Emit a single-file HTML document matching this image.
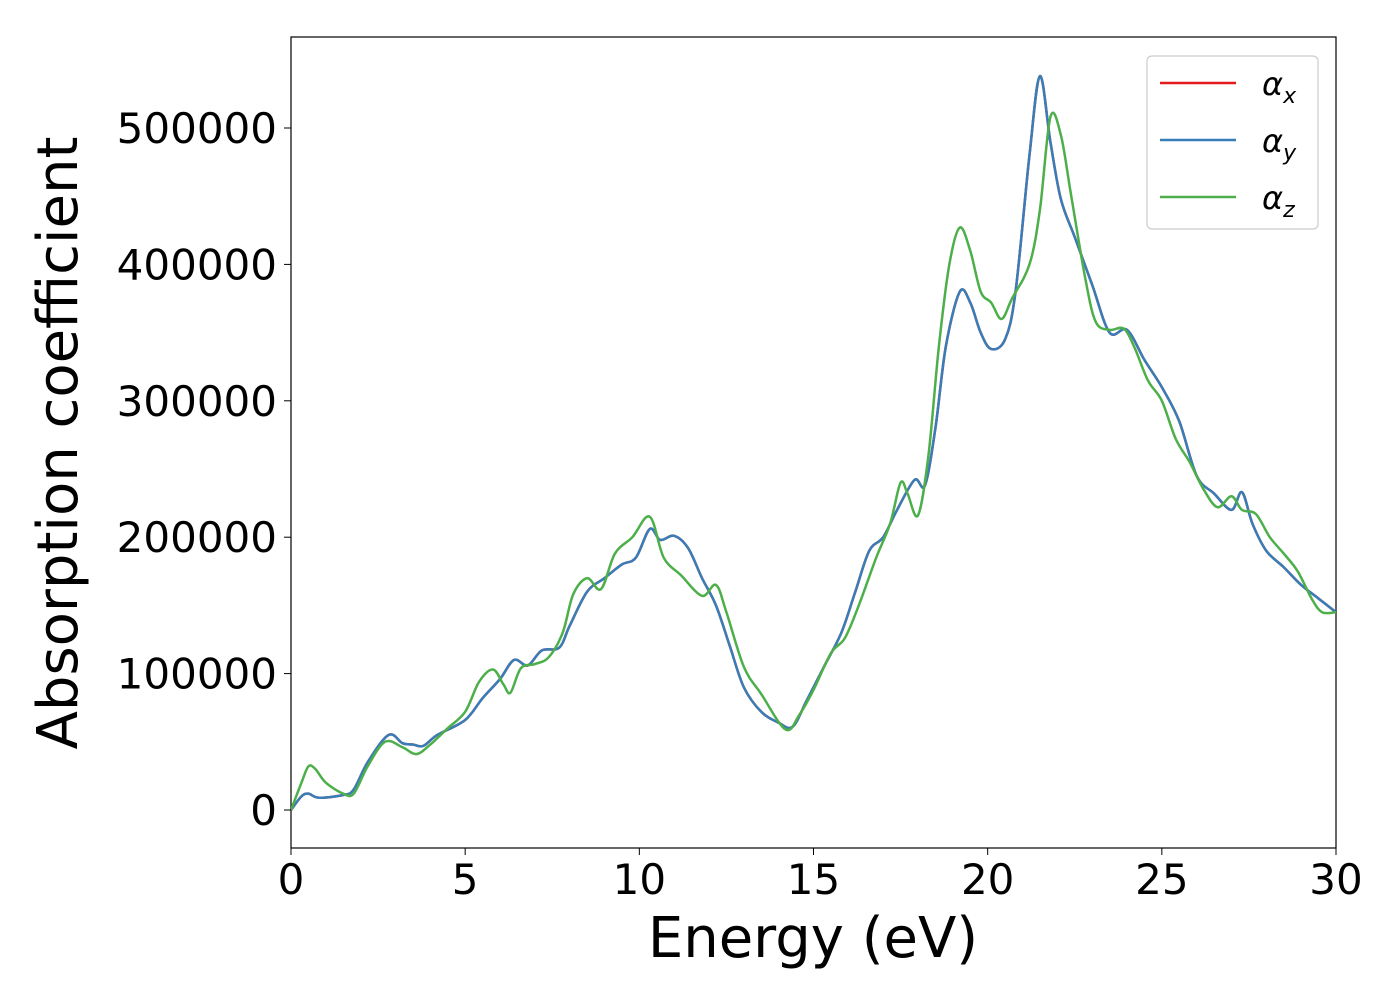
<!DOCTYPE html>
<html><head><meta charset="utf-8"><style>
body{margin:0;background:#fff;}
svg text{font-family:"DejaVu Sans","Liberation Sans",sans-serif;}
</style></head><body>
<svg id="chart" width="1400" height="1000">
<rect x="291" y="37" width="1045" height="811" fill="#fff" stroke="#000" stroke-width="1.2"/>
<g id="marks"></g>
<g id="axes"></g>
<text x="813" y="957" font-size="56" text-anchor="middle">Energy (eV)</text>
<text transform="translate(77,443) rotate(-90)" font-size="56" text-anchor="middle">Absorption coefficient</text>
<g>
<rect x="1147" y="56" width="171" height="173" rx="5" fill="#fff" stroke="#ccc" stroke-width="1.2"/>
<line x1="1160" y1="83" x2="1236" y2="83" stroke="#e41a1c" stroke-width="2.5"/>
<text x="1262" y="95" font-size="32" font-style="italic">α<tspan font-size="22" dy="8">x</tspan></text>
<line x1="1160" y1="140" x2="1236" y2="140" stroke="#377eb8" stroke-width="2.5"/>
<text x="1262" y="152" font-size="32" font-style="italic">α<tspan font-size="22" dy="8">y</tspan></text>
<line x1="1160" y1="197" x2="1236" y2="197" stroke="#4daf4a" stroke-width="2.5"/>
<text x="1262" y="209" font-size="32" font-style="italic">α<tspan font-size="22" dy="8">z</tspan></text>
</g>
</svg>
<script>
const xyEnergy=[0,0.3,0.5,0.8,1.5,1.8,2.2,2.8,3.2,3.5,3.8,4.2,5,5.5,6,6.4,6.8,7.2,7.7,8,8.5,9,9.5,9.9,10.3,10.6,11,11.4,11.8,12.2,12.6,13,13.5,14,14.4,14.8,15.3,15.8,16.2,16.6,17,17.4,17.9,18.2,18.5,18.8,19.2,19.5,19.8,20.1,20.5,20.8,21.2,21.5,21.8,22.1,22.5,23,23.5,24,24.5,25,25.5,26,26.5,27,27.3,27.6,28,28.5,29,29.5,30];
const alphaY=[0,10000,12000,9000,11000,15000,35000,55000,49000,48000,47000,55000,66000,82000,96000,110000,106000,117000,119000,135000,160000,170000,180000,185000,206000,198000,201000,192000,170000,150000,120000,90000,72000,64000,61000,80000,105000,130000,160000,190000,200000,220000,242000,238000,280000,340000,380000,372000,350000,338000,345000,380000,480000,538000,490000,448000,420000,385000,350000,352000,330000,310000,285000,245000,232000,220000,233000,210000,190000,178000,165000,155000,145000];
const alphaX=alphaY.slice();
const zEnergy=[0,0.3,0.5,0.7,1,1.5,1.8,2.2,2.7,3.2,3.6,4,4.5,5,5.4,5.8,6.1,6.3,6.6,7,7.4,7.8,8.1,8.5,8.9,9.3,9.8,10.3,10.7,11.2,11.8,12.2,12.5,13,13.5,14.2,14.6,15,15.5,15.9,16.3,16.8,17.2,17.5,17.7,18,18.3,18.6,18.9,19.2,19.5,19.8,20.1,20.4,20.7,21.2,21.5,21.8,22.1,22.4,22.8,23.1,23.5,23.9,24.2,24.6,25,25.4,25.8,26.2,26.6,27,27.3,27.7,28.1,28.5,28.9,29.3,29.6,30];
const alphaZ=[0,20000,32000,30000,20000,12000,12000,32000,50000,46000,41000,48000,60000,72000,94000,103000,92000,86000,104000,107000,112000,130000,158000,170000,162000,188000,200000,215000,185000,172000,157000,165000,145000,105000,85000,59000,70000,88000,115000,126000,150000,185000,210000,240000,232000,216000,260000,340000,400000,427000,410000,380000,372000,360000,375000,400000,440000,508000,495000,450000,390000,358000,352000,353000,340000,315000,300000,272000,255000,235000,222000,230000,220000,217000,200000,188000,175000,155000,145000,145000];
const xTicks=[0,5,10,15,20,25,30];
const yTicks=[0,100000,200000,300000,400000,500000];
const X=v=>291+(v-0)/30*1045;
const Y=v=>810-v*682/500000;
const NS="http://www.w3.org/2000/svg";
function pathFor(xs,ys){
  const p=xs.map((x,i)=>[X(x),Y(ys[i])]);
  let d="M"+p[0][0]+","+p[0][1];
  for(let i=0;i<p.length-1;i++){
    const p0=p[Math.max(0,i-1)],p1=p[i],p2=p[i+1],p3=p[Math.min(p.length-1,i+2)];
    const c1=[p1[0]+(p2[0]-p0[0])/6,p1[1]+(p2[1]-p0[1])/6];
    const c2=[p2[0]-(p3[0]-p1[0])/6,p2[1]-(p3[1]-p1[1])/6];
    d+=" C"+c1[0]+","+c1[1]+" "+c2[0]+","+c2[1]+" "+p2[0]+","+p2[1];
  }
  return d;
}
const marks=document.getElementById("marks");
const clip=document.createElementNS(NS,"clipPath");clip.id="cp";
const cr=document.createElementNS(NS,"rect");cr.setAttribute("x",291);cr.setAttribute("y",37);cr.setAttribute("width",1045);cr.setAttribute("height",811);
clip.appendChild(cr);marks.appendChild(clip);
marks.setAttribute("clip-path","url(#cp)");
[[xyEnergy,alphaX,"#e41a1c","series-alpha-x"],[xyEnergy,alphaY,"#377eb8","series-alpha-y"],[zEnergy,alphaZ,"#4daf4a","series-alpha-z"]].forEach(s=>{
  const el=document.createElementNS(NS,"path");
  el.setAttribute("d",pathFor(s[0],s[1]));
  el.setAttribute("fill","none");el.setAttribute("stroke",s[2]);el.setAttribute("stroke-width","2.5");
  
  
  marks.appendChild(el);
});
const axes=document.getElementById("axes");
xTicks.forEach(t=>{
  const l=document.createElementNS(NS,"line");
  l.setAttribute("x1",X(t));l.setAttribute("x2",X(t));l.setAttribute("y1",848);l.setAttribute("y2",855);l.setAttribute("stroke","#000");
  
  
  axes.appendChild(l);
  const tx=document.createElementNS(NS,"text");
  tx.setAttribute("x",X(t));tx.setAttribute("y",894);tx.setAttribute("font-size","42");tx.setAttribute("text-anchor","middle");
  tx.textContent=t;
  
  
  axes.appendChild(tx);
});
yTicks.forEach(t=>{
  const l=document.createElementNS(NS,"line");
  l.setAttribute("x1",284);l.setAttribute("x2",291);l.setAttribute("y1",Y(t));l.setAttribute("y2",Y(t));l.setAttribute("stroke","#000");
  
  
  axes.appendChild(l);
  const tx=document.createElementNS(NS,"text");
  tx.setAttribute("x",277);tx.setAttribute("y",Y(t)+15);tx.setAttribute("font-size","42");tx.setAttribute("text-anchor","end");
  tx.textContent=t;
  
  
  axes.appendChild(tx);
});
</script>
</body></html>
